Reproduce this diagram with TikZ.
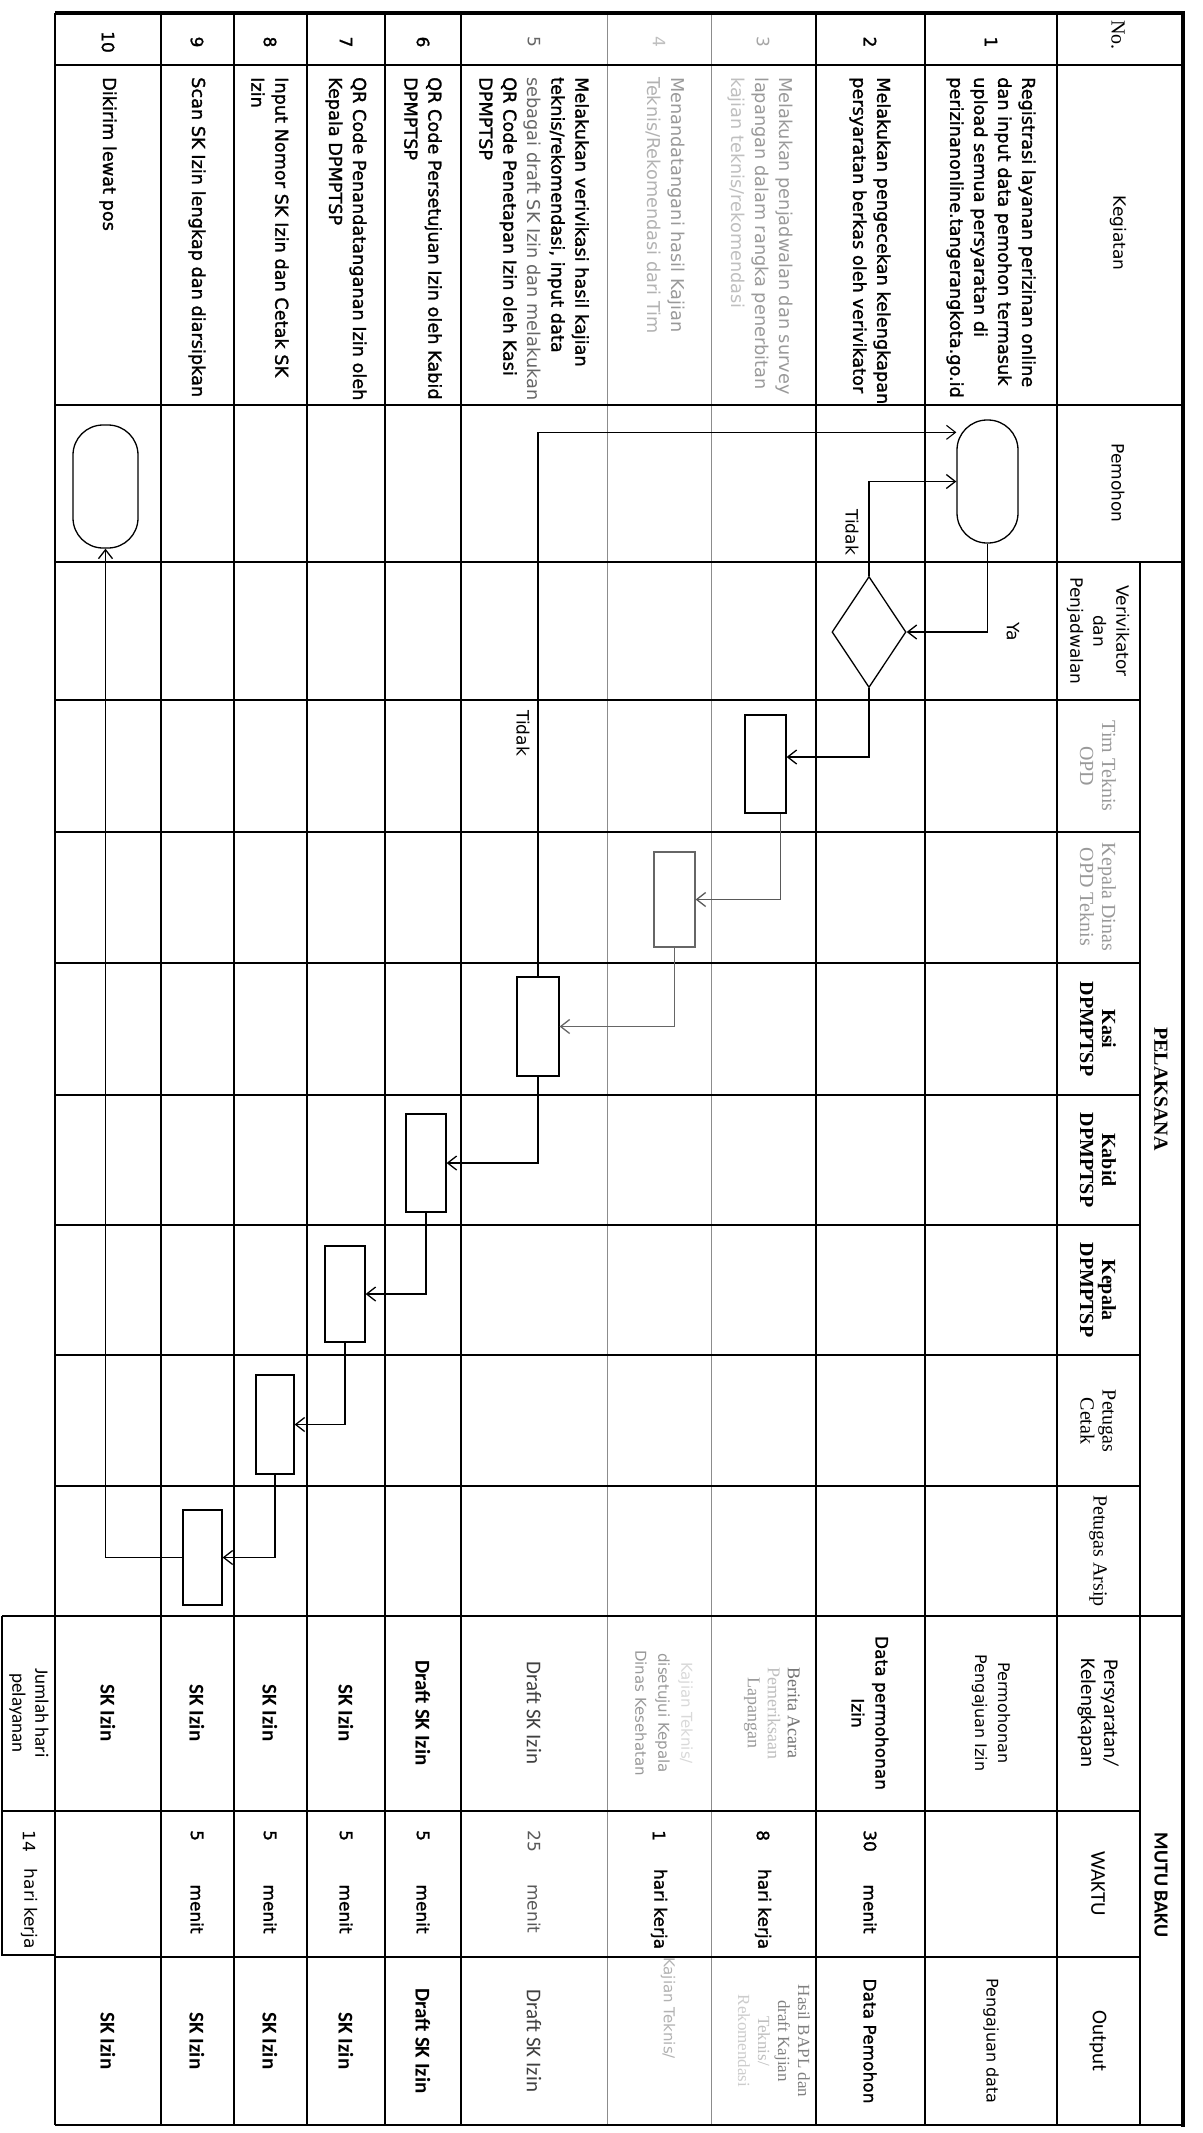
\documentclass[tikz,border=0pt]{standalone}
\usepackage{fontspec}
\setmainfont{DejaVu Sans}
\newfontfamily\heavy{DejaVu Sans}[FakeBold=1.4]
\newfontfamily\calib{Carlito}
\newfontfamily\camb{Liberation Serif}
\usetikzlibrary{shapes.geometric,arrows.meta,calc}
\begin{document}
\begin{tikzpicture}[x=1pt,y=-1pt,
  rowsep/.style={line width=1.5pt},
  colsep/.style={line width=2.4pt},
  bord/.style={line width=4.5pt},
  txt/.style={rotate=-90, inner sep=0pt, align=center, font={\fontsize{17}{24}\selectfont}},
  htxt/.style={txt, font={\heavy\fontsize{17}{24}\selectfont}},
  keg/.style={txt, anchor=west, align=left, font={\heavy\fontsize{17.7}{24}\selectfont}},
  cal/.style={txt, font={\calib\fontsize{21}{23}\selectfont}},
  calb/.style={txt, font={\calib\bfseries\fontsize{21}{23}\selectfont}},
  ser/.style={txt, font={\camb\fontsize{20}{22}\selectfont}},
  serb/.style={txt, font={\camb\bfseries\fontsize{20}{22}\selectfont}},
  faint/.style={text=black!40, font={\fontsize{17.7}{24}\selectfont}},
  term/.style={draw, line width=1.3pt, fill=white, rectangle, rounded corners=30pt, inner sep=0pt},
  dec/.style={draw, line width=1.3pt, fill=white, diamond, inner sep=0pt},
  tbox/.style={draw, line width=1.2pt, fill=white, rectangle, inner sep=0pt},
  arr/.style={line width=1.3pt, -{Straight Barb[length=9pt,width=14pt]}}
]
\fill[white] (0,0) rectangle (1202,2133);
\useasboundingbox (0,0) rectangle (1202,2133);

% ---------- grid ----------
\foreach \x in {161,234,307,385,461,816,925,1057} \draw[rowsep] (\x,13) -- (\x,2125);
\foreach \x in {607,711} \draw[line width=1pt, black!45] (\x,13) -- (\x,2125);
\draw[line width=1.8pt] (55,13) -- (55,2125);
\draw[line width=1.8pt] (55,2125) -- (1183,2125);
\draw[rowsep] (1140,562) -- (1140,2125);
\foreach \y in {65,405,562} \draw[colsep] (55,\y) -- (1183,\y);
\draw[colsep] (2,1616) -- (1183,1616);
\foreach \y in {700,832,963,1095,1225,1355,1486,1957} \draw[colsep] (55,\y) -- (1140,\y);
\draw[colsep] (2,1811) -- (1140,1811);
\draw[line width=1.4pt] (2,1616) -- (2,1955) -- (55,1955);
\draw[bord] (55,13) -- (1183,13);
\draw[bord] (1183,11) -- (1183,2127);

% ---------- header ----------
\node[ser, anchor=west] (hno) at (1118,20) {No.};
\node[txt] (hkeg) at (1118,233) {Kegiatan};
\node[txt] (hpem) at (1118,483) {Pemohon};
\node[txt, font={\fontsize{17}{23}\selectfont}] (hver) at (1098,631) {Verivikator\\dan\\Penjadwalan};
\node[ser, text=black!40] (htim) at (1098,766) {Tim Teknis\\OPD};
\node[ser, text=black!40] (hkdin) at (1098,897) {Kepala Dinas\\OPD Teknis};
\node[serb] (hkasi) at (1098,1029) {Kasi\\DPMPTSP};
\node[serb] (hkabid) at (1098,1160) {Kabid\\DPMPTSP};
\node[serb] (hkep) at (1098,1290) {Kepala\\DPMPTSP};
\node[ser] (hcetak) at (1098,1421) {Petugas\\Cetak};
\node[ser] (harsip) at (1098,1551) {Petugas Arsip};
\node[serb] (hpel) at (1161,1089) {PELAKSANA};
\node[calb, font={\calib\bfseries\fontsize{20}{22}\selectfont}] (hmutu) at (1161,1885) {MUTU BAKU};
\node[cal] (hpers) at (1098,1713) {Persyaratan/\\Kelengkapan};
\node[cal] (hwaktu) at (1098,1884) {WAKTU};
\node[cal] (hout) at (1098,2041) {Output};

% ---------- numbers ----------
\node[htxt] (n1) at (991,42) {1};
\node[htxt] (n2) at (870,42) {2};
\node[txt, text=black!35] (n3) at (763,42) {3};
\node[txt, text=black!25] (n4) at (659,42) {4};
\node[txt, text=black!60] (n5) at (534,42) {5};
\node[htxt] (n6) at (423,42) {6};
\node[htxt] (n7) at (346,42) {7};
\node[htxt] (n8) at (270,42) {8};
\node[htxt] (n9) at (197,42) {9};
\node[htxt] (n10) at (108,42) {10};

% ---------- kegiatan ----------
\node[keg] (k1) at (991,77) {Registrasi layanan perizinan online\\dan input data pemohon termasuk\\upload semua persyaratan di\\perizinanonline.tangerangkota.go.id};
\node[keg] (k2) at (870,77) {Melakukan pengecekan kelengkapan\\persyaratan berkas oleh verivikator};
\node[keg, faint] (k3) at (760,77) {Melakukan penjadwalan dan survey\\lapangan dalam rangka penerbitan\\{\color{black!25}kajian teknis/rekomendasi}};
\node[keg, faint] (k4) at (665,77) {Menandatangani hasil Kajian\\{\color{black!30}Teknis/Rekomendasi dari Tim}};
\node[keg] (k5) at (534,77) {Melakukan verivikasi hasil kajian\\teknis/rekomendasi, input data\\{\normalfont\fontsize{17.7}{24}\selectfont\color{black!60}sebagai draft SK Izin dan melakukan}\\QR Code Penetapan Izin oleh Kasi\\DPMPTSP};
\node[keg] (k6) at (423,77) {QR Code Persetujuan Izin oleh Kabid\\DPMPTSP};
\node[keg] (k7) at (346,77) {QR Code Penandatanganan Izin oleh\\Kepala DPMPTSP};
\node[keg] (k8) at (270,77) {Input Nomor SK Izin dan Cetak SK\\Izin};
\node[keg] (k9) at (197,77) {Scan SK Izin lengkap dan diarsipkan};
\node[keg] (k10) at (108,77) {Dikirim lewat pos};

% ---------- flow shapes ----------
\node[term, minimum width=61pt, minimum height=123pt] (T1) at (987.5,481.5) {};
\node[term, minimum width=65pt, minimum height=123pt] (T2) at (105.5,486.5) {};
\node[dec, minimum width=74pt, minimum height=111pt] (D) at (869,632) {};
\node[tbox, minimum width=41pt, minimum height=98pt] (B1) at (765.5,764) {};
\node[tbox, draw=black!60, minimum width=41pt, minimum height=95pt] (B2) at (674.5,899.5) {};
\node[tbox, minimum width=42pt, minimum height=99pt] (B3) at (538,1026.5) {};
\node[tbox, minimum width=40pt, minimum height=98pt] (B4) at (426,1163) {};
\node[tbox, minimum width=40pt, minimum height=96pt] (B5) at (345,1294) {};
\node[tbox, minimum width=38pt, minimum height=99pt] (B6) at (275,1424.5) {};
\node[tbox, minimum width=39pt, minimum height=95pt] (B7) at (202.5,1557.5) {};

% ---------- connectors ----------
\draw[arr] (T1.south) |- (D.east);
\node[txt] (ya) at (1013,632) {Ya};
\draw[arr] (D.north) |- (T1.west);
\node[txt] (tdk1) at (852,532) {Tidak};
\draw[arr] (D.south) |- ($(B1.east)+(0,-7)$);
\draw[arr, black!65] ($(B1.south)+(15,0)$) |- (B2.east);
\draw[arr, black!60] (B2.south) |- (B3.east);
\draw[arr, line width=1.1pt] (B3.north) |- ($(T1.north west)+(0,13)$);
\node[txt] (tdk2) at (523,733) {Tidak};
\draw[arr] (B3.south) |- (B4.east);
\draw[arr] (B4.south) |- (B5.east);
\draw[arr] (B5.south) |- (B6.east);
\draw[arr] (B6.south) |- (B7.east);
\draw[arr] (B7.west) -| (T2.south);

% ---------- persyaratan ----------
\node[txt, font={\fontsize{16}{23}\selectfont}] (p1) at (991,1713) {Permohonan\\Pengajuan Izin};
\node[htxt] (p2) at (870,1713) {Data permohonan\\Izin};
\node[txt, font={\camb\fontsize{18}{20}\selectfont}, text=black!55] (p3) at (772,1713) {Berita Acara\\{\color{black!25}Pemeriksaan}\\{\color{black!40}Lapangan}};
\node[txt, font={\fontsize{15}{23}\selectfont}, text=black!40] (p4) at (664,1713) {{\color{black!15}Kajian Teknis/}\\disetujui Kepala\\Dinas Kesehatan};
\node[cal, text=black!75] (p5) at (534,1713) {Draft SK Izin};
\node[calb] (p6) at (423,1713) {Draft SK Izin};
\node[calb] (p7) at (346,1713) {SK Izin};
\node[calb] (p8) at (270,1713) {SK Izin};
\node[calb] (p9) at (197,1713) {SK Izin};
\node[calb] (p10) at (108,1713) {SK Izin};
\node[cal, font={\calib\fontsize{19}{23}\selectfont}] (jml) at (29,1713) {Jumlah hari\\pelayanan};

% ---------- waktu ----------
\node[htxt, anchor=west] (w2a) at (870,1830) {30};
\node[htxt] (w2b) at (870,1909) {menit};
\node[htxt, anchor=west] (w3a) at (763,1830) {8};
\node[htxt] (w3b) at (763,1909) {hari kerja};
\node[htxt, anchor=west] (w4a) at (659,1830) {1};
\node[htxt] (w4b) at (659,1909) {hari kerja};
\node[txt, anchor=west, text=black!65] (w5a) at (534,1830) {25};
\node[txt, text=black!65] (w5b) at (534,1909) {menit};
\node[htxt, anchor=west] (w6a) at (423,1830) {5};
\node[htxt] (w6b) at (423,1909) {menit};
\node[htxt, anchor=west] (w7a) at (346,1830) {5};
\node[htxt] (w7b) at (346,1909) {menit};
\node[htxt, anchor=west] (w8a) at (270,1830) {5};
\node[htxt] (w8b) at (270,1909) {menit};
\node[htxt, anchor=west] (w9a) at (197,1830) {5};
\node[htxt] (w9b) at (197,1909) {menit};
\node[txt, anchor=west] (w0a) at (29,1830) {14};
\node[txt] (w0b) at (29,1909) {hari kerja};

% ---------- output ----------
\node[txt, font={\fontsize{16}{23}\selectfont}] (o1) at (991,2041) {Pengajuan data};
\node[htxt] (o2) at (870,2041) {Data Pemohon};
\node[txt, font={\camb\fontsize{17}{20}\selectfont}, text=black!50] (o3) at (774,2041) {Hasil BAPL dan\\draft Kajian\\{\color{black!25}Teknis/}\\{\color{black!20}Rekomendasi}};
\node[txt, font={\fontsize{15}{20}\selectfont}, text=black!30] (o4) at (668,2008) {Kajian Teknis/};
\node[cal, text=black!75] (o5) at (534,2041) {Draft SK Izin};
\node[calb] (o6) at (423,2041) {Draft SK Izin};
\node[calb] (o7) at (346,2041) {SK Izin};
\node[calb] (o8) at (270,2041) {SK Izin};
\node[calb] (o9) at (197,2041) {SK Izin};
\node[calb] (o10) at (108,2041) {SK Izin};
\end{tikzpicture}
\end{document}
